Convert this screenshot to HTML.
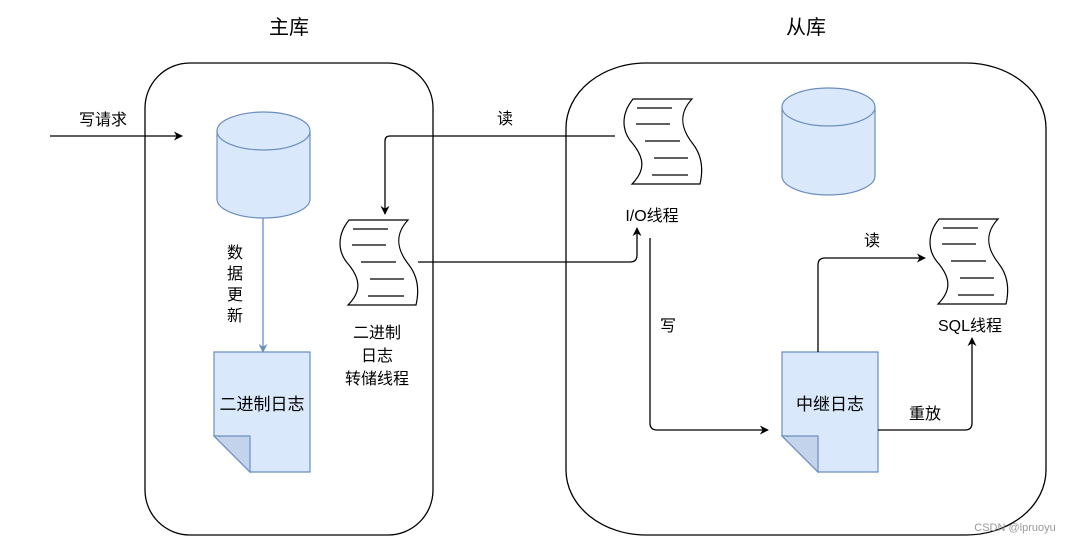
<!DOCTYPE html>
<html><head><meta charset="utf-8"><style>
html,body{margin:0;padding:0;background:#fff;}
svg{display:block;}
text{font-family:"Liberation Sans","Noto Sans CJK SC",sans-serif;fill:#000;}
</style></head><body>
<svg width="1070" height="546" viewBox="0 0 1070 546" xmlns="http://www.w3.org/2000/svg">
<defs>
<marker id="ah" viewBox="0 0 10 10" refX="9" refY="5" markerWidth="9" markerHeight="9" orient="auto" markerUnits="userSpaceOnUse"><path d="M0,0 L10,5 L0,10 L3,5 Z" fill="#000"/></marker>
<marker id="ab" viewBox="0 0 10 10" refX="9" refY="5" markerWidth="9" markerHeight="9" orient="auto" markerUnits="userSpaceOnUse"><path d="M0,0 L10,5 L0,10 L3,5 Z" fill="#6c8ebf"/></marker>
<g id="tape">
<path d="M10,0 L69,0 C55,15 58,30 70,45 C80,58 80,72 77,85 L9,85 C22,72 22,60 10,45 C-2,32 -2,15 10,0 Z" fill="#fff" stroke="#000" stroke-width="1.2"/>
<g stroke="#000" stroke-width="1.2"><line x1="14" y1="9" x2="49" y2="9"/><line x1="13" y1="25" x2="47" y2="25"/><line x1="22" y1="42" x2="57" y2="42"/><line x1="31" y1="59" x2="65" y2="59"/><line x1="29" y1="76" x2="65" y2="76"/></g>
</g>
</defs>

<text x="289" y="34" font-size="20" text-anchor="middle">主库</text>
<text x="806" y="34" font-size="20" text-anchor="middle">从库</text>

<rect x="145" y="63" width="288" height="472" rx="45" ry="45" fill="none" stroke="#000" stroke-width="1.3"/>
<rect x="566" y="63" width="480" height="472" rx="80" ry="65" fill="none" stroke="#000" stroke-width="1.3"/>

<line x1="50" y1="136" x2="182" y2="136" stroke="#000" stroke-width="1.3" marker-end="url(#ah)"/>
<text x="103" y="125" font-size="16" text-anchor="middle">写请求</text>

<path d="M217,131 L217,199 A46.5,19 0 0 0 310,199 L310,131" fill="#dae8fc" stroke="#6c8ebf" stroke-width="1.2"/>
<ellipse cx="263.5" cy="131" rx="46.5" ry="19" fill="#dae8fc" stroke="#6c8ebf" stroke-width="1.2"/>

<line x1="263" y1="218" x2="263" y2="352" stroke="#6c8ebf" stroke-width="1.3" marker-end="url(#ab)"/>
<g font-size="16" text-anchor="middle"><text x="235" y="258">数</text><text x="235" y="279">据</text><text x="235" y="300">更</text><text x="235" y="321">新</text></g>

<path d="M214,352 L310,352 L310,472 L250,472 L214,436 Z" fill="#dae8fc" stroke="#6c8ebf" stroke-width="1.2"/>
<path d="M214,436 L250,436 L250,472 Z" fill="#c3d3ec" stroke="#6c8ebf" stroke-width="1.2"/>
<text x="262" y="410" font-size="17" text-anchor="middle">二进制日志</text>

<use href="#tape" x="339" y="220"/>
<g font-size="16" text-anchor="middle"><text x="377" y="338">二进制</text><text x="377" y="361">日志</text><text x="377" y="384">转储线程</text></g>

<use href="#tape" x="623" y="99"/>
<text x="652" y="221" font-size="16" text-anchor="middle">I/O线程</text>

<path d="M615,136 L390,136 Q385,136 385,141 L385,214" fill="none" stroke="#000" stroke-width="1.3" marker-end="url(#ah)"/>
<text x="505" y="124" font-size="16" text-anchor="middle">读</text>

<path d="M418,262 L630,262 Q637,262 637,255 L637,228" fill="none" stroke="#000" stroke-width="1.3" marker-end="url(#ah)"/>

<path d="M782,107 L782,176 A46.5,19 0 0 0 875,176 L875,107" fill="#dae8fc" stroke="#6c8ebf" stroke-width="1.2"/>
<ellipse cx="828.5" cy="107" rx="46.5" ry="19" fill="#dae8fc" stroke="#6c8ebf" stroke-width="1.2"/>

<path d="M650,238 L650,423 Q650,430 657,430 L768,430" fill="none" stroke="#000" stroke-width="1.3" marker-end="url(#ah)"/>
<text x="668" y="331" font-size="16" text-anchor="middle">写</text>

<path d="M782,352 L878,352 L878,472 L818,472 L782,436 Z" fill="#dae8fc" stroke="#6c8ebf" stroke-width="1.2"/>
<path d="M782,436 L818,436 L818,472 Z" fill="#c3d3ec" stroke="#6c8ebf" stroke-width="1.2"/>
<text x="830" y="410" font-size="17" text-anchor="middle">中继日志</text>

<path d="M818,352 L818,265 Q818,258 825,258 L925,258" fill="none" stroke="#000" stroke-width="1.3" marker-end="url(#ah)"/>
<text x="872" y="246" font-size="16" text-anchor="middle">读</text>

<use href="#tape" x="929" y="219"/>
<text x="970" y="331" font-size="16" text-anchor="middle">SQL线程</text>

<path d="M878,430 L965,430 Q972,430 972,423 L972,338" fill="none" stroke="#000" stroke-width="1.3" marker-end="url(#ah)"/>
<text x="925" y="419" font-size="16" text-anchor="middle">重放</text>

<text x="1015" y="531" font-size="11" text-anchor="middle" style="fill:#999">CSDN @lpruoyu</text>
</svg>
</body></html>
